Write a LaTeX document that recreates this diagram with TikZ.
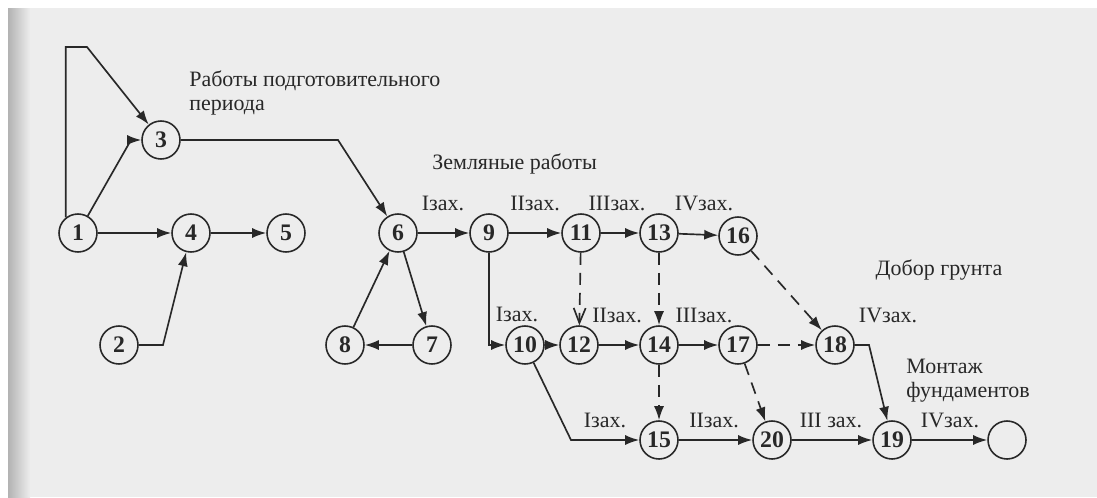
\documentclass[tikz,border=0pt]{standalone}
\usepackage{fontspec}
\setmainfont{Liberation Serif}
\usetikzlibrary{arrows, arrows.meta}
\usetikzlibrary{calc}

\definecolor{paper}{RGB}{237,237,237}
\definecolor{ink}{RGB}{40,40,40}

\begin{document}
\begin{tikzpicture}[x=0.02cm, y=-0.02cm,
    event/.style={circle, draw=ink, line width=0.9pt, inner sep=0pt, minimum size=0.76cm,
      font=\fontsize{13.5}{14}\selectfont\bfseries, text=ink},
    work/.style={draw=ink, line width=0.95pt, -{Latex[length=2.8mm, width=2mm]}},
    dummy/.style={work, dash pattern=on 2.4mm off 1.6mm},
    lbl/.style={font=\fontsize{12.5}{13.5}\selectfont, text=ink, inner sep=0pt}]
    \useasboundingbox (0,0) rectangle (1097,497);
    \fill[white] (0,0) rectangle (1097,497);
    \fill[paper] (8,8) rectangle (1097,497);
    \shade[left color=black!30, right color=paper] (8,8) rectangle (30,497);

    % events
    \node[event] (1) at (78,233) {1};
    \node[event] (2) at (119,345) {2};
    \node[event] (3) at (161,140) {3};
    \node[event] (4) at (191,233) {4};
    \node[event] (5) at (286,233) {5};
    \node[event] (6) at (398,233) {6};
    \node[event] (7) at (432,345) {7};
    \node[event] (8) at (345,345) {8};
    \node[event] (9) at (489,233) {9};
    \node[event] (10) at (525,345) {10};
    \node[event] (11) at (581,233) {11};
    \node[event] (12) at (579,345) {12};
    \node[event] (13) at (659,233) {13};
    \node[event] (14) at (659,345) {14};
    \node[event] (15) at (659,440) {15};
    \node[event] (16) at (738,236) {16};
    \node[event] (17) at (738,345) {17};
    \node[event] (18) at (835,345) {18};
    \node[event] (19) at (892,440) {19};
    \node[event] (20) at (772,440) {20};
    \node[event] (last) at (1007,440) {};

    % works
    \draw[work] (1.128) |- (87,47) -- (3);
    \draw[work] (1) -- (131,140) -- (3);
    \draw[work] (1) -- (4);
    \draw[work] (4) -- (5);
    \draw[work] (2) -- (163,345) -- (4);
    \draw[work] (3) -- (338,140) -- (6);
    \draw[work] (8) -- (6);
    \draw[work] (6) -- (7);
    \draw[work] (7) -- (8);
    \draw[work] (6) -- (9);
    \draw[work] (9) -- (11);
    \draw[work] (11) -- (13);
    \draw[work] (13) -- (16);
    \draw[work] (9) |- (10);
    \draw[work] (10) -- (12);
    \draw[work] (12) -- (14);
    \draw[work] (14) -- (17);
    \draw[work] (10) -- (571,440) -- (15);
    \draw[work] (15) -- (20);
    \draw[work] (20) -- (19);
    \draw[work] (19) -- (last);
    \draw[work] (18) -- (869,345) -- (19);

    % dummy works
    \draw[dummy, -{Straight Barb[length=3mm, width=2.4mm]}] (11) -- (12);
    \draw[dummy] (13) -- (14);
    \draw[dummy] (14) -- (15);
    \draw[dummy] (16) -- (18);
    \draw[dummy] (17) -- (18);
    \draw[dummy] (17) -- (20);

    % labels
    \node[lbl, anchor=west, align=left] (prep) at (189,93) {Работы подготовительного\\периода};
    \node[lbl, anchor=west] (earth) at (432,164) {Земляные работы};
    \node[lbl] (extra) at (939,270) {Добор грунта};
    \node[lbl, anchor=west, align=left] (found) at (906,381) {Монтаж\\фундаментов};

    \node[lbl] (a1) at (443,203) {Iзах.};
    \node[lbl] (a2) at (535,203) {IIзах.};
    \node[lbl] (a3) at (617,203) {IIIзах.};
    \node[lbl] (a4) at (704,203) {IVзах.};
    \node[lbl] (b1) at (517,314) {Iзах.};
    \node[lbl] (b2) at (617,315) {IIзах.};
    \node[lbl] (b3) at (704,315) {IIIзах.};
    \node[lbl] (b4) at (888,315) {IVзах.};
    \node[lbl] (c1) at (605,420) {Iзах.};
    \node[lbl] (c2) at (714,420) {IIзах.};
    \node[lbl] (c3) at (831,420) {III зах.};
    \node[lbl] (c4) at (950,420) {IVзах.};
\end{tikzpicture}
\end{document}
